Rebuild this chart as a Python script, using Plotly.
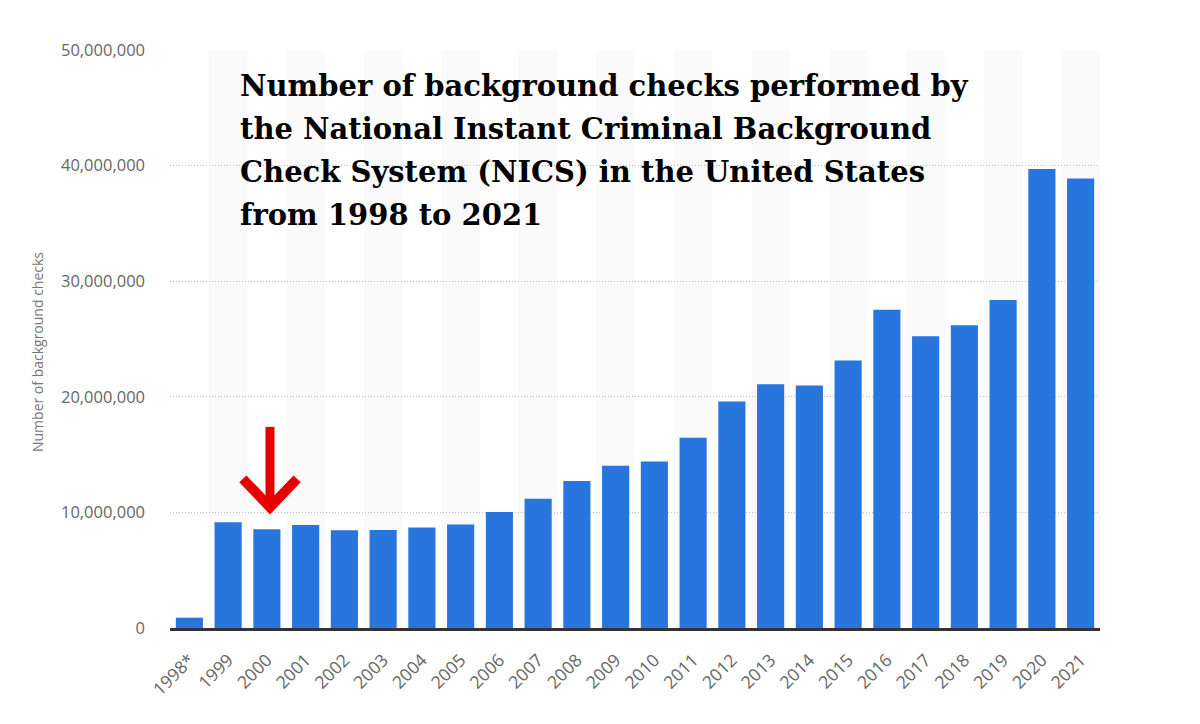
import plotly.graph_objects as go

years = ["1998*", "1999", "2000", "2001", "2002", "2003", "2004", "2005", "2006", "2007",
         "2008", "2009", "2010", "2011", "2012", "2013", "2014", "2015", "2016", "2017",
         "2018", "2019", "2020", "2021"]
checks = [892840, 9138123, 8543037, 8910191, 8454322, 8481588, 8687671, 8952945,
          10036933, 11177374, 12709023, 14033824, 14409616, 16454951, 19592303,
          21093273, 20968547, 23141970, 27538673, 25235215, 26181936, 28369750,
          39695315, 38876673]
y_ticks = [0, 10000000, 20000000, 30000000, 40000000, 50000000]
y_tick_text = ["0", "10,000,000", "20,000,000", "30,000,000", "40,000,000", "50,000,000"]

title_lines = ["Number of background checks performed by",
               "the National Instant Criminal Background",
               "Check System (NICS) in the United States",
               "from 1998 to 2021"]
y_title = "Number of background checks"

fig = go.Figure()
fig.add_trace(go.Bar(x=years, y=checks, marker=dict(color="#2876dd", line=dict(width=0)),
                     hoverinfo="x+y"))

shapes = []
# alternating background bands
for i in range(len(years)):
    if i % 2 == 1:
        shapes.append(dict(type="rect", xref="x", yref="y", x0=i - 0.5, x1=i + 0.5,
                           y0=0, y1=50000000, fillcolor="#fafafa", line=dict(width=0),
                           layer="below"))

# red arrow pointing at year 2000 (category index 2)
ax_c = years.index("2000") + 0.08
shapes.append(dict(type="line", xref="x", yref="y", x0=ax_c, x1=ax_c,
                   y0=17400000, y1=11000000, line=dict(color="#e60000", width=9)))
shapes.append(dict(type="path", xref="x", yref="y",
                   path=f"M {ax_c-0.7},{12900000} L {ax_c},{10450000} L {ax_c+0.7},{12900000}",
                   line=dict(color="#e60000", width=10)))

annotations = []
line_y = [0.9377, 0.8633, 0.7889, 0.7145]
for txt, yy in zip(title_lines, line_y):
    annotations.append(dict(text=txt, xref="paper", yref="paper", x=0.073, y=yy,
                            xanchor="left", yanchor="middle", showarrow=False, align="left",
                            font=dict(family="DejaVu Serif", size=29, color="#000000",
                                      weight="bold")))
annotations.append(dict(text=y_title, xref="paper", yref="paper", x=-0.143, y=0.4775,
                        xanchor="center", yanchor="middle", textangle=-90, showarrow=False,
                        font=dict(family="Open Sans", size=14, color="#777777")))

fig.update_layout(
    width=1200, height=724,
    margin=dict(l=170, r=100, t=50, b=96),
    paper_bgcolor="white", plot_bgcolor="white",
    bargap=0.3,
    showlegend=False,
    shapes=shapes,
    annotations=annotations,
    font=dict(family="Open Sans", color="#666666", size=16),
    xaxis=dict(type="category", tickangle=-45, showgrid=False, showline=True,
               linecolor="#333333", linewidth=3, ticks="", ticklabelstandoff=12,
               tickfont=dict(size=17.5, color="#666666"),
               range=[-0.5, len(years) - 0.5]),
    yaxis=dict(range=[0, 50000000], tickvals=y_ticks, ticktext=y_tick_text,
               showgrid=True, gridcolor="#bdbdbd", griddash="1px,2px", gridwidth=1,
               zeroline=False, showline=False, ticks="", ticklabelstandoff=24,
               tickfont=dict(size=16.5, color="#666666")),
)

fig.write_html("out.html")
